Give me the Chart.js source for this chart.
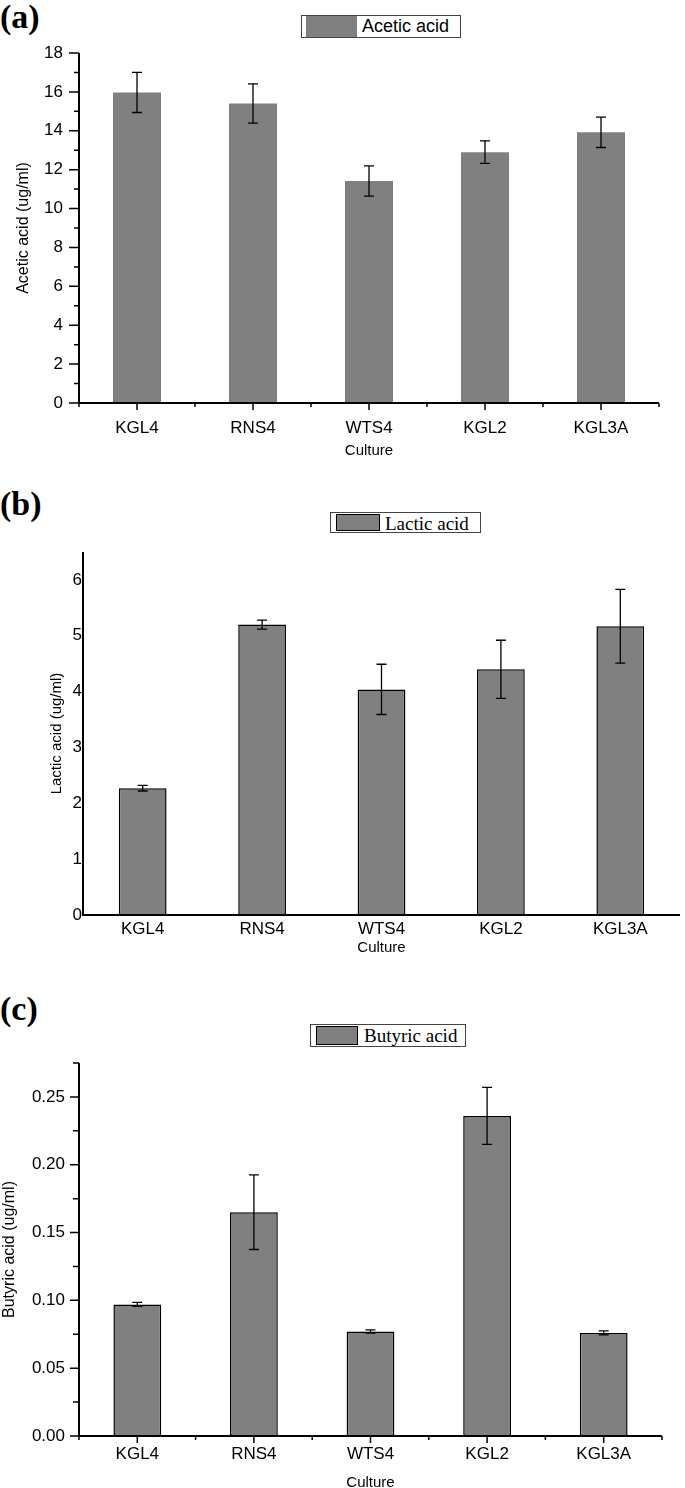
<!DOCTYPE html>
<html>
<head>
<meta charset="utf-8">
<script src="https://cdn.jsdelivr.net/npm/chart.js@4.4.0/dist/chart.umd.min.js"></script>
<style>
  html, body { margin: 0; padding: 0; background: #fff; overflow: hidden; }
  body { width: 685px; height: 1488px; position: relative; }
  canvas { position: absolute; left: 0; }
  .tag { position: absolute; left: 0; font-family: "Liberation Serif", "Times New Roman", serif; font-weight: bold; font-size: 34px; line-height: 34px; }
  .legend { position: absolute; box-sizing: border-box; border: 1px solid #444; background: #fff; }
  .legend .sw { position: absolute; box-sizing: border-box; background: #808080; }
  .legend .tx { position: absolute; white-space: nowrap; color: #000; }
</style>
</head>
<body>
<div class="tag" style="top:0px">(a)</div>
<div class="tag" style="top:487px">(b)</div>
<div class="tag" style="top:992px">(c)</div>

<div class="legend" style="left:301px;top:15px;width:160px;height:23px">
  <div class="sw" style="left:4px;top:0;width:51px;height:21px"></div>
  <div class="tx" style="left:60px;top:0;line-height:21px;font:18px 'Liberation Sans',Arial,sans-serif">Acetic acid</div>
</div>
<div class="legend" style="left:330px;top:512px;width:151px;height:21px">
  <div class="sw" style="left:5px;top:1px;width:44px;height:17px;border:1.5px solid #000"></div>
  <div class="tx" style="left:54px;top:0;line-height:19px;font:19px 'Liberation Serif','Times New Roman',serif">Lactic acid</div>
</div>
<div class="legend" style="left:310px;top:1024px;width:156px;height:23px">
  <div class="sw" style="left:5px;top:1px;width:42px;height:19px;border:1.5px solid #000"></div>
  <div class="tx" style="left:53px;top:0;line-height:21px;font:19px 'Liberation Serif','Times New Roman',serif">Butyric acid</div>
</div>

<canvas id="chartA" width="685" height="470" style="top:0px;width:685px;height:470px"></canvas>
<canvas id="chartB" width="685" height="500" style="top:470px;width:685px;height:500px"></canvas>
<canvas id="chartC" width="685" height="530" style="top:970px;width:685px;height:530px"></canvas>

<script>
// ---- data ----
const cultures = ["KGL4", "RNS4", "WTS4", "KGL2", "KGL3A"];

const aceticMean = [15.97, 15.4, 11.42, 12.9, 13.92];
const aceticErr  = [1.03, 1.01, 0.78, 0.58, 0.78];

const lacticMean = [2.27, 5.2, 4.04, 4.4, 5.17];
const lacticErr  = [0.05, 0.08, 0.45, 0.52, 0.66];

const butyricMean = [0.097, 0.165, 0.077, 0.236, 0.076];
const butyricErr  = [0.0015, 0.0275, 0.0012, 0.021, 0.0015];

const aceticTicks  = [0, 2, 4, 6, 8, 10, 12, 14, 16, 18];
const aceticMinor  = [1, 3, 5, 7, 9, 11, 13, 15, 17];
const lacticTicks  = [0, 1, 2, 3, 4, 5, 6];
const butyricTicks = [0, 0.05, 0.10, 0.15, 0.20, 0.25];
const butyricMinor = [0.025, 0.075, 0.125, 0.175, 0.225, 0.275];

const BAR_GREY = "#808080";
const SANS = "'Liberation Sans', Arial, sans-serif";
Chart.defaults.font.family = SANS;
Chart.defaults.color = "#000";

// axis lines + major/minor ticks, drawn from the chart's own scales
const axesPlugin = {
  id: "axesTicks",
  afterDatasetsDraw(chart, args, o) {
    const ctx = chart.ctx, a = chart.chartArea;
    const xs = chart.scales.x, ys = chart.scales.y;
    ctx.save();
    ctx.strokeStyle = "#000";
    ctx.lineWidth = o.lineWidth;
    ctx.beginPath();
    ctx.moveTo(a.left, a.top);
    ctx.lineTo(a.left, a.bottom);
    ctx.lineTo(a.right, a.bottom);
    ctx.stroke();

    ctx.lineWidth = 1.5;
    ctx.beginPath();
    (o.yMajor || []).forEach(v => {
      const py = ys.getPixelForValue(v);
      ctx.moveTo(a.left, py); ctx.lineTo(a.left - o.yMajorLen, py);
    });
    (o.yMinor || []).forEach(v => {
      const py = ys.getPixelForValue(v);
      ctx.moveTo(a.left, py); ctx.lineTo(a.left - o.yMinorLen, py);
    });
    if (o.xTicks) {
      for (let i = 0; i < cultures.length; i++) {
        const px = xs.getPixelForValue(i);
        ctx.moveTo(px, a.bottom); ctx.lineTo(px, a.bottom + o.xMajorLen);
      }
      for (let i = 0; i <= cultures.length; i++) {
        const px = xs.getPixelForValue(i - 0.5);
        ctx.moveTo(px, a.bottom); ctx.lineTo(px, a.bottom + o.xMinorLen);
      }
    }
    ctx.stroke();
    ctx.restore();
  }
};

// error bars on top of each bar
const errorPlugin = {
  id: "errorBars",
  afterDatasetsDraw(chart, args, o) {
    const ctx = chart.ctx;
    const ys = chart.scales.y;
    const meta = chart.getDatasetMeta(0);
    const vals = chart.data.datasets[0].data;
    ctx.save();
    ctx.strokeStyle = "#000";
    ctx.lineWidth = 1.3;
    meta.data.forEach((bar, i) => {
      const hi = ys.getPixelForValue(vals[i] + o.errors[i]);
      const lo = ys.getPixelForValue(vals[i] - o.errors[i]);
      ctx.beginPath();
      ctx.moveTo(bar.x, hi); ctx.lineTo(bar.x, lo);
      ctx.moveTo(bar.x - o.cap, hi); ctx.lineTo(bar.x + o.cap, hi);
      ctx.moveTo(bar.x - o.cap, lo); ctx.lineTo(bar.x + o.cap, lo);
      ctx.stroke();
    });
    ctx.restore();
  }
};

function makePanel(id, p) {
  return new Chart(document.getElementById(id), {
    type: "bar",
    data: {
      labels: cultures,
      datasets: [{
        data: p.values,
        backgroundColor: BAR_GREY,
        borderColor: "#000",
        borderWidth: p.border,
        borderSkipped: false,
        barPercentage: p.barPct,
        categoryPercentage: 1
      }]
    },
    options: {
      responsive: false,
      animation: false,
      layout: { padding: { left: 0, right: p.right, top: p.top, bottom: 0 } },
      plugins: {
        legend: { display: false },
        tooltip: { enabled: false },
        axesTicks: p.axes,
        errorBars: { errors: p.errors, cap: 5 }
      },
      scales: {
        x: {
          offset: true,
          afterFit: s => { s.height = p.xHeight; },
          grid: { display: false, drawTicks: false },
          border: { display: false },
          ticks: { padding: p.xPad, autoSkip: false, maxRotation: 0, font: { size: 17 } },
          title: { display: true, text: "Culture", font: { size: 15 }, padding: { top: 0, bottom: p.cultPad } }
        },
        y: {
          min: 0,
          max: p.max,
          afterBuildTicks: s => { s.ticks = p.ticks.map(v => ({ value: v })); },
          afterFit: s => { s.width = p.yWidth; },
          grid: { display: false, drawTicks: false },
          border: { display: false },
          ticks: { padding: p.yPad, font: { size: 17 }, callback: p.fmt },
          title: { display: true, text: p.yTitle, font: { size: p.yTitleSize }, padding: { top: p.yTitlePad, bottom: 0 } }
        }
      }
    },
    plugins: [axesPlugin, errorPlugin]
  });
}

makePanel("chartA", {
  values: aceticMean, errors: aceticErr, border: 0, barPct: 0.414,
  max: 18, ticks: aceticTicks, fmt: v => String(v),
  top: 53, right: 26, yWidth: 79, xHeight: 67,
  xPad: 15, cultPad: 10, yPad: 16,
  yTitle: "Acetic acid (ug/ml)", yTitleSize: 16, yTitlePad: 14,
  axes: { lineWidth: 2, yMajor: aceticTicks, yMinor: aceticMinor, yMajorLen: 10, yMinorLen: 5, xTicks: true, xMajorLen: 7, xMinorLen: 4 }
});

makePanel("chartB", {
  values: lacticMean, errors: lacticErr, border: 1.5, barPct: 0.40,
  max: 6.5, ticks: lacticTicks, fmt: v => String(v),
  top: 82, right: 5, yWidth: 83, xHeight: 55,
  xPad: 4, cultPad: 13, yPad: 1,
  yTitle: "Lactic acid (ug/ml)", yTitleSize: 15, yTitlePad: 48,
  axes: { lineWidth: 2, xTicks: false }
});

makePanel("chartC", {
  values: butyricMean, errors: butyricErr, border: 1.5, barPct: 0.41,
  max: 0.275, ticks: butyricTicks, fmt: v => v.toFixed(2),
  top: 93, right: 23, yWidth: 79, xHeight: 64,
  xPad: 8, cultPad: 8, yPad: 14,
  yTitle: "Butyric acid (ug/ml)", yTitleSize: 16, yTitlePad: 0,
  axes: { lineWidth: 2, yMajor: butyricTicks, yMinor: butyricMinor, yMajorLen: 9, yMinorLen: 6, xTicks: true, xMajorLen: 7, xMinorLen: 4 }
});
</script>
</body>
</html>
